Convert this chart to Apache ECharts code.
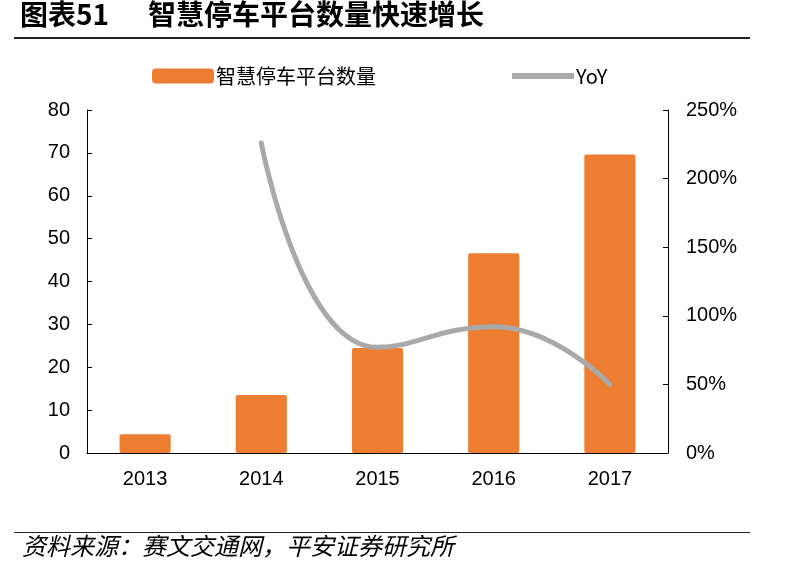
<!DOCTYPE html>
<html><head><meta charset="utf-8">
<script src="https://cdn.jsdelivr.net/npm/echarts@6/dist/echarts.min.js"></script>
<style>html,body{margin:0;padding:0;background:#fff}#c{width:790px;height:565px}</style>
</head><body><div id="c"></div>
<script>
const categories = ['2013','2014','2015','2016','2017'];
const platformCount = [4.4, 13.5, 24.5, 46.6, 69.6];
const yoy = [null, 226, 77, 92, 50];
const leftTicks = [0,10,20,30,40,50,60,70,80];
const rightTicks = ['0%','50%','100%','150%','200%','250%'];

const chart = echarts.init(document.getElementById('c'));
const numFont = '"Liberation Sans", Arial, sans-serif';
const cjk = '"Noto Sans CJK SC", sans-serif';
chart.setOption({
  animation: false,
  backgroundColor: '#fff',
  graphic: [
    {type:'text', left:20, top:0, style:{text:'图表51', font:'bold 28px ' + cjk, fill:'#000'}},
    {type:'text', left:148, top:0, style:{text:'智慧停车平台数量快速增长', font:'bold 28px ' + cjk, fill:'#000'}},
    {type:'rect', shape:{x:14, y:37, width:736, height:2}, style:{fill:'#222'}},
    {type:'rect', shape:{x:14, y:532, width:736, height:1}, style:{fill:'#222'}},
    {type:'text', left:22, top:534, style:{text:'资料来源：赛文交通网，平安证券研究所', font:'italic 24px ' + cjk, fill:'#000'}}
  ],
  legend: {
    top: 61, left: 147, itemGap: 136, itemWidth: 62, itemHeight: 15,
    textStyle: {fontFamily: cjk, fontSize: 20, color: '#000', padding:[0,0,0,-3]},
    data: [
      {name:'智慧停车平台数量', icon:'roundRect'},
      {name:'YoY', icon:'path://M0,0 L60,0 L60,6 L0,6 Z', itemStyle:{color:'#A9A9A9'}}
    ]
  },
  grid: {left: 87, right: 122, top: 110, bottom: 112},
  xAxis: {
    type: 'category', data: categories,
    axisLine: {lineStyle: {color: '#000', width: 1}},
    axisTick: {inside: true, length: 6, lineStyle:{color:'#000'}},
    axisLabel: {fontFamily: numFont, fontSize: 20, color: '#000', margin: 16}
  },
  yAxis: [
    {type:'value', min:0, max:80, interval:10,
     axisLine:{show:true, lineStyle:{color:'#000'}},
     axisTick:{show:true, inside:true, length:5, lineStyle:{color:'#000'}},
     splitLine:{show:false},
     axisLabel:{fontFamily:numFont, fontSize:20, color:'#000', margin:17}},
    {type:'value', min:0, max:250, interval:50,
     axisLine:{show:true, lineStyle:{color:'#000'}},
     axisTick:{show:true, inside:true, length:5, lineStyle:{color:'#000'}},
     splitLine:{show:false},
     axisLabel:{fontFamily:numFont, fontSize:20, color:'#000', margin:18,
       formatter: v => rightTicks[v/50]}}
  ],
  series: [
    {name:'智慧停车平台数量', type:'bar', data: platformCount, barWidth: '44%',
     itemStyle:{color:'#ED7D31', borderRadius:2}},
    {name:'YoY', type:'line', yAxisIndex:1, data: yoy, smooth: true,
     symbol:'none', lineStyle:{color:'#A9A9A9', width:5, cap:'round'}, itemStyle:{color:'#A9A9A9'}}
  ]
});
</script></body></html>
